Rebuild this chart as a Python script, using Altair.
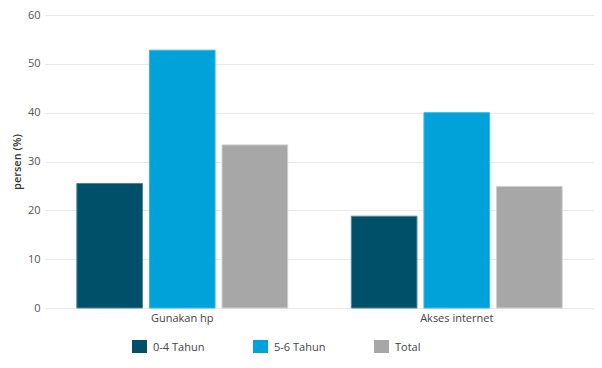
import altair as alt
import pandas as pd

categories = ["Gunakan hp", "Akses internet"]
groups = ["0-4 Tahun", "5-6 Tahun", "Total"]
values_0_4 = [25.5, 18.8]
values_5_6 = [52.8, 40.0]
values_total = [33.4, 24.9]

colors = ["#005069", "#00A2DA", "#A7A7A8"]
strokes = ["#4E8598", "#3DB6E2", "#CFCFCF"]

rows = []
for i, c in enumerate(categories):
    for g, vals in zip(groups, [values_0_4, values_5_6, values_total]):
        rows.append({"kategori": c, "kelompok": g, "nilai": vals[i]})
df = pd.DataFrame(rows)

FONT = "Open Sans"

chart = alt.Chart(df).mark_bar(strokeWidth=1).encode(
    x=alt.X("kategori:N", sort=categories, title=None,
            scale=alt.Scale(paddingInner=0.232, paddingOuter=0.116),
            axis=alt.Axis(labelAngle=0, ticks=False, domain=False, labelPadding=4,
                          labelFontSize=11, labelColor="#444444", labelFont=FONT)),
    xOffset=alt.XOffset("kelompok:N", sort=groups,
                        scale=alt.Scale(paddingInner=0.096, paddingOuter=0)),
    y=alt.Y("nilai:Q", title="persen (%)",
            scale=alt.Scale(domain=[0, 60], nice=False),
            axis=alt.Axis(values=[0, 10, 20, 30, 40, 50, 60], ticks=False, domain=False,
                          labelPadding=5, labelFontSize=11, labelColor="#555555",
                          labelFont=FONT, titleFont=FONT, titleFontSize=11,
                          titleFontWeight=600, titleColor="#333333", titlePadding=5,
                          gridColor="#E8E8E8", gridWidth=1)),
    color=alt.Color("kelompok:N", sort=groups,
                    scale=alt.Scale(domain=groups, range=colors),
                    legend=alt.Legend(title=None, orient="none", direction="horizontal",
                                      legendX=87, legendY=325,
                                      symbolType="square", symbolSize=225,
                                      symbolStrokeWidth=0, symbolOpacity=1,
                                      labelFontSize=11, labelColor="#444444",
                                      labelFont=FONT, labelOffset=6,
                                      columnPadding=48, gridAlign="all")),
    stroke=alt.Stroke("kelompok:N", sort=groups,
                      scale=alt.Scale(domain=groups, range=strokes), legend=None),
).properties(
    width=549, height=293,
    autosize=alt.AutoSizeParams(type="none"),
    padding={"left": 37, "top": 7, "right": 0, "bottom": 45},
).configure_view(stroke=None)

chart.save("out.html", embed_options={"renderer": "svg", "actions": False})
